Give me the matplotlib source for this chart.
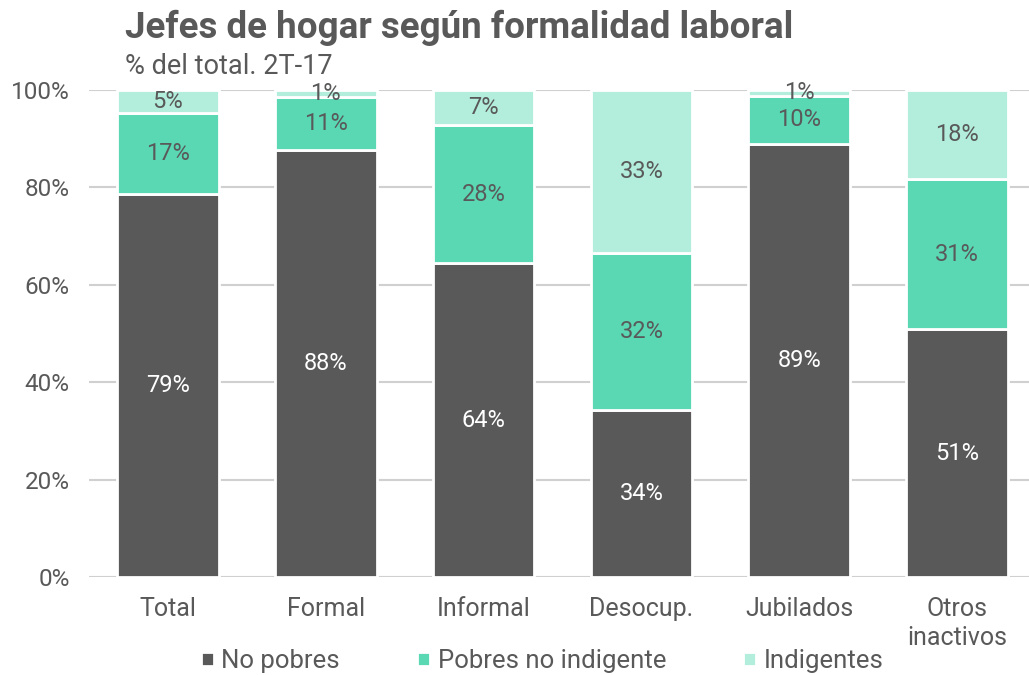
import numpy as np
import matplotlib.pyplot as plt

# data (% of total, 2T-17)
categories = ["Total", "Formal", "Informal", "Desocup.", "Jubilados", "Otros\ninactivos"]
no_pobres = [78.6, 87.6, 64.4, 34.3, 88.9, 50.9]
pobres_no_indigente = [16.6, 11.0, 28.4, 32.3, 9.9, 30.8]
indigentes = [4.8, 1.4, 7.2, 33.4, 1.2, 18.3]
series_names = ["No pobres", "Pobres no indigente", "Indigentes"]

text_color = "#595959"
colors = ["#595959", "#5ad8b4", "#b2eedb"]
label_colors = ["white", text_color, text_color]

plt.rcParams["font.family"] = ["Roboto", "DejaVu Sans"]

fig = plt.figure(figsize=(10.29, 6.75), dpi=100)
ax = fig.add_axes([89 / 1029, 98 / 675, 947 / 1029, 487 / 675])

x = np.arange(len(categories))
bottom = np.zeros(len(categories))
for values, color, lcolor, name in zip([no_pobres, pobres_no_indigente, indigentes],
                                       colors, label_colors, series_names):
    values = np.array(values)
    ax.bar(x, values, bottom=bottom, width=0.645, color=color,
           edgecolor="white", linewidth=2, label=name, zorder=3)
    for i in range(len(values)):
        ax.text(x[i], bottom[i] + values[i] / 2, "%d%%" % round(values[i]),
                ha="center", va="center", fontsize=17, color=lcolor, zorder=4)
    bottom += values

ax.set_xlim(-0.5, 5.5)
ax.set_ylim(0, 100)
ax.set_yticks(np.arange(0, 101, 20))
ax.set_yticklabels(["%d%%" % v for v in range(0, 101, 20)])
ax.set_xticks(x)
ax.set_xticklabels(categories, linespacing=1.25)
ax.tick_params(axis="both", length=0, labelsize=17.5, colors=text_color)
ax.tick_params(axis="x", labelsize=18, pad=14.5)
ax.tick_params(axis="y", pad=14)
ax.grid(axis="y", color="#d0d0d0", linewidth=1.5, zorder=0)
for s in ax.spines.values():
    s.set_visible(False)

fig.text(125 / 1029, 1 - 28 / 675, "Jefes de hogar según formalidad laboral",
         fontsize=26.5, fontweight="bold", color=text_color, va="center")
fig.text(125 / 1029, 1 - 67 / 675, "% del total. 2T-17",
         fontsize=19.5, color=text_color, va="center")

fig.legend(loc="center", bbox_to_anchor=(0.527, 1 - 661 / 675), ncol=3,
           frameon=False, fontsize=18.5, labelcolor=text_color,
           handlelength=0.5, handleheight=0.5, handletextpad=0.3,
           columnspacing=3.0)

fig.savefig("out.png", dpi=100)
